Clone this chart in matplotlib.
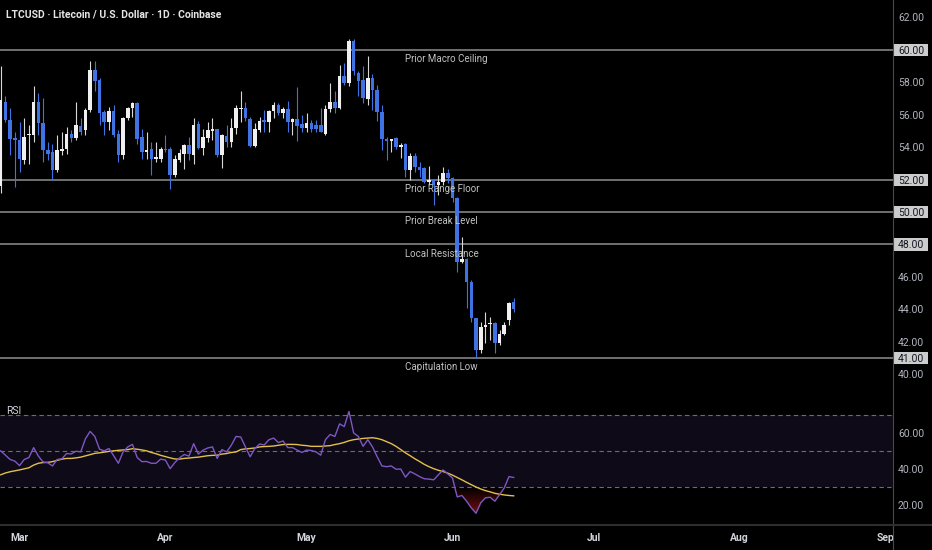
import numpy as np
import pandas as pd
import matplotlib
matplotlib.use("Agg")
import matplotlib.pyplot as plt
from matplotlib.patches import Rectangle
from matplotlib.lines import Line2D

plt.rcParams['font.family'] = ['Roboto', 'DejaVu Sans']

# ── data ──
start_date = "2025-02-25"
title = "LTCUSD · Litecoin / U.S. Dollar · 1D · Coinbase"

opens = [51.6, 56.80, 55.66, 54.57, 54.42, 53.18, 54.73, 54.73, 56.80, 55.45,
         53.80, 53.70, 52.56, 53.74, 53.90, 54.83, 54.57, 55.31, 55.04, 56.28,
         58.76, 58.14, 56.14, 55.52, 56.22, 54.83, 53.49, 55.76, 56.38, 56.69,
         54.63, 53.70, 53.86, 53.29, 53.29, 53.90, 53.86, 52.25, 53.18, 53.59,
         54.15, 53.49, 55.39, 53.95, 54.57, 55.00, 55.08, 53.49, 54.67, 54.32,
         55.19, 56.34, 56.43, 55.72, 54.07, 55.04, 55.66, 55.52, 56.22, 56.59,
         56.07, 56.34, 55.56, 55.72, 55.39, 55.19, 55.45, 55.35, 55.35, 54.83,
         56.34, 56.76, 56.43, 58.35, 57.93, 60.52, 58.55, 58.14, 56.96, 58.24,
         57.52, 56.18, 54.52, 54.36, 54.54, 54.02, 54.18, 52.59, 53.45, 52.80,
         52.73, 51.87, 51.97, 51.66, 51.87, 52.43, 52.08, 50.84, 46.95, 47.09,
         45.71, 43.45, 41.51, 42.94, 43.08, 43.14, 41.92, 42.49, 43.35, 44.48]
highs = [59.0, 57.11, 56.38, 54.94, 55.56, 55.76, 55.35, 57.73, 57.31, 56.99,
         54.32, 54.21, 54.73, 54.94, 55.25, 55.04, 56.80, 55.76, 56.38, 59.28,
         59.28, 58.24, 56.28, 56.49, 56.59, 55.04, 55.87, 56.49, 56.80, 56.75,
         55.14, 54.94, 54.32, 54.32, 54.01, 54.73, 54.01, 53.49, 53.90, 54.21,
         54.63, 55.76, 55.60, 55.14, 55.56, 55.76, 55.14, 54.83, 55.35, 55.76,
         56.59, 57.42, 56.80, 55.87, 55.45, 55.87, 56.28, 56.28, 56.80, 56.69,
         56.49, 56.84, 55.76, 57.67, 55.97, 56.07, 55.66, 55.66, 56.38, 56.59,
         57.93, 57.42, 59.07, 59.17, 60.62, 60.62, 58.66, 58.97, 59.59, 58.49,
         57.83, 56.59, 54.63, 54.52, 54.59, 54.23, 54.23, 53.61, 53.61, 53.10,
         52.80, 52.84, 52.01, 52.28, 52.76, 52.63, 52.18, 50.95, 48.48, 47.15,
         45.82, 43.50, 43.25, 43.86, 43.56, 43.20, 42.73, 43.25, 44.48, 44.69]
lows = [51.2, 55.56, 53.49, 51.53, 52.46, 52.98, 52.98, 54.32, 54.73, 53.08,
        53.18, 51.94, 52.46, 53.49, 53.59, 54.32, 54.42, 54.73, 54.73, 56.18,
        57.42, 55.35, 54.73, 55.04, 54.60, 53.08, 53.29, 55.66, 55.87, 54.21,
        53.29, 53.29, 52.25, 53.08, 53.08, 53.70, 51.43, 52.15, 53.08, 52.67,
        53.18, 52.98, 53.90, 53.53, 54.32, 54.42, 53.39, 52.71, 54.01, 54.01,
        54.83, 55.56, 55.60, 54.01, 54.01, 54.94, 54.94, 54.94, 55.81, 55.97,
        55.76, 54.94, 54.73, 54.36, 54.94, 54.90, 54.94, 54.94, 54.90, 54.77,
        56.14, 56.07, 56.34, 57.83, 57.73, 58.45, 57.11, 56.69, 56.59, 56.28,
        55.60, 53.80, 53.18, 53.70, 53.90, 53.31, 52.18, 51.97, 52.49, 52.18,
        51.77, 51.66, 50.43, 51.05, 51.66, 51.77, 50.64, 46.33, 46.84, 44.07,
        43.25, 41.00, 41.30, 41.92, 42.12, 41.30, 41.81, 42.43, 43.04, 43.86]
closes = [56.9, 55.66, 54.52, 54.42, 53.29, 54.63, 54.83, 56.80, 55.45, 53.80,
          53.59, 52.56, 53.80, 53.90, 54.83, 54.57, 55.35, 54.94, 56.28, 58.76,
          58.04, 56.07, 55.56, 56.22, 54.73, 53.49, 55.76, 56.38, 56.69, 54.52,
          53.70, 53.84, 53.29, 53.39, 53.90, 53.80, 52.25, 53.29, 53.66, 54.15,
          53.55, 55.35, 53.95, 54.63, 55.04, 55.08, 53.49, 54.73, 54.32, 55.19,
          56.38, 56.43, 55.76, 54.07, 55.08, 55.60, 55.52, 56.22, 56.59, 56.07,
          56.34, 55.56, 55.72, 55.31, 55.19, 55.45, 55.08, 55.14, 54.94, 56.34,
          56.76, 56.43, 58.35, 57.93, 60.52, 58.66, 58.04, 57.00, 58.24, 57.52,
          56.18, 54.52, 54.36, 54.48, 54.02, 54.12, 52.59, 53.45, 52.80, 52.59,
          51.87, 51.97, 51.66, 51.87, 52.43, 52.08, 50.84, 46.95, 47.09, 45.71,
          43.45, 41.51, 42.94, 43.04, 43.19, 41.92, 42.49, 43.04, 44.42, 44.01]

rsi = [50.1, 47.7, 45.3, 44.4, 41.9, 45.3, 46.4, 51.9, 47.2, 43.9,
       43.5, 41.7, 45.3, 45.7, 48.6, 48.4, 49.9, 49.5, 56.8, 60.9,
       58.1, 51.0, 50.1, 51.4, 47.4, 43.2, 49.5, 52.3, 53.7, 46.4,
       44.1, 44.2, 43.2, 43.2, 45.5, 45.0, 40.2, 43.6, 46.2, 48.1,
       47.2, 54.1, 48.3, 50.5, 51.7, 52.3, 45.9, 50.8, 49.5, 53.2,
       58.1, 57.8, 52.3, 46.8, 51.4, 53.9, 53.4, 56.3, 57.2, 54.7,
       55.6, 51.9, 51.9, 50.5, 49.2, 50.5, 50.3, 49.5, 47.7, 56.3,
       59.2, 58.1, 65.1, 63.6, 72.0, 60.0, 58.1, 52.6, 56.3, 52.3,
       46.8, 41.7, 41.3, 41.7, 39.9, 40.0, 35.5, 38.6, 37.3, 35.8,
       34.6, 34.4, 34.0, 36.8, 39.5, 37.3, 35.0, 24.5, 25.3, 22.1,
       18.4, 15.4, 21.2, 24.0, 24.3, 22.1, 25.8, 29.5, 35.8, 35.3]
rsi_ma = [36.8, 37.8, 38.5, 39.0, 39.5, 40.1, 40.7, 42.2, 43.2, 43.6,
          43.7, 44.1, 44.8, 45.5, 45.9, 45.9, 46.2, 46.6, 47.3, 48.0,
          48.7, 49.0, 49.4, 49.8, 50.1, 50.4, 50.6, 50.8, 51.3, 51.0,
          50.6, 50.1, 49.2, 48.5, 47.6, 46.9, 46.2, 45.6, 45.5, 45.9,
          46.1, 46.4, 46.6, 47.0, 47.4, 47.6, 47.7, 48.3, 48.6, 49.2,
          49.5, 50.8, 51.2, 51.4, 51.7, 52.3, 52.5, 52.6, 52.8, 53.2,
          53.6, 53.7, 53.7, 53.6, 53.2, 53.0, 52.6, 52.6, 52.6, 52.8,
          53.0, 53.6, 54.1, 54.8, 55.7, 56.3, 56.7, 57.0, 57.2, 57.4,
          57.0, 56.3, 55.2, 54.1, 52.6, 50.8, 49.0, 47.4, 45.7, 44.2,
          42.6, 41.3, 40.2, 39.3, 38.6, 37.7, 36.6, 35.3, 34.0, 32.6,
          31.3, 30.0, 28.9, 28.0, 27.3, 26.5, 26.0, 25.6, 25.3, 25.1]

level_prices = [60.0, 52.0, 50.0, 48.0, 41.0]
level_names = ["Prior Macro Ceiling", "Prior Range Floor", "Prior Break Level",
               "Local Resistance", "Capitulation Low"]
price_ticks = [62, 58, 56, 54, 46, 44, 42, 40]
rsi_ticks = [60, 40, 20]
rsi_bands = [70, 50, 30]

# ── style ──
BLUE = "#3f72e2"
WHITE = "#f0f0f0"
AXIS_TXT = "#b2b5be"

W, H = 932, 550
fig = plt.figure(figsize=(W / 100, H / 100), dpi=100, facecolor="black")
fx = lambda px: px / W
fy = lambda py: 1 - py / H

ax = fig.add_axes([0, fy(392), fx(893), 392 / H])
ax_rsi = fig.add_axes([0, fy(525), fx(893), 133 / H])
ax_date = fig.add_axes([0, 0, fx(893), 25 / H])

x = np.arange(len(opens))
xlim = (-0.15, 189.6)

# candles
o, h, l, c = map(np.array, (opens, highs, lows, closes))
up = c >= o
cols = np.where(up, WHITE, BLUE)
wick_cols = np.where(up, "#d8d8d8", BLUE)
ax.vlines(x, l, h, colors=wick_cols, lw=0.8, zorder=3)
ax.bar(x, np.maximum(np.abs(c - o), 0.07), bottom=np.minimum(o, c), width=0.76,
       color=cols, linewidth=0, zorder=4)

for p, name in zip(level_prices, level_names):
    ax.axhline(p, color="#8f8f8f", lw=1.1, zorder=2)
    ax.text(86.0, p - 0.56, name, fontsize=7, color="#c2c2c2", va="center",
            ha="left", zorder=6)

ax.set_xlim(*xlim)
ax.set_ylim(38.92, 63.05)

# rsi pane
r = np.array(rsi)
ax_rsi.axhspan(30, 70, color="#0e0a17", lw=0, zorder=0)
for b in rsi_bands:
    ax_rsi.axhline(b, color="#6a6d78", lw=0.8, ls=(0, (4, 3)), zorder=1)
fill = ax_rsi.fill_between(x, r, 30, where=r < 30, interpolate=True,
                           color="none", lw=0)
vals = np.linspace(8.9, 30, 200)
grad = np.zeros((200, 1, 4))
grad[..., 0] = 0.78
grad[..., 1] = 0.1
grad[..., 2] = 0.1
grad[..., 3] = np.clip((30 - vals) / 25, 0, 1)[:, None]
im = ax_rsi.imshow(grad, extent=(xlim[0], xlim[1], 8.9, 30), origin="lower",
                   aspect="auto", zorder=2)
if len(fill.get_paths()):
    im.set_clip_path(fill.get_paths()[0], transform=ax_rsi.transData)
ax_rsi.plot(x, rsi_ma, color="#e3c04a", lw=1.0, zorder=3)
ax_rsi.plot(x, rsi, color="#7e57c2", lw=1.0, zorder=4)
ax_rsi.set_xlim(*xlim)
ax_rsi.set_ylim(8.9, 82.8)

for a in (ax, ax_rsi):
    a.set_facecolor("black")
    a.yaxis.tick_right()
    a.tick_params(axis="y", length=0, pad=3.6, labelsize=7.5, labelcolor=AXIS_TXT)
    a.set_xticks([])
    for s in a.spines.values():
        s.set_visible(False)
ax.set_yticks(price_ticks)
ax.set_yticklabels([f"{v:.2f}" for v in price_ticks])
ax_rsi.set_yticks(rsi_ticks)
ax_rsi.set_yticklabels([f"{v:.2f}" for v in rsi_ticks])

# boxed price labels for the levels
ytr = ax.get_yaxis_transform()
for p in level_prices:
    ax.add_patch(Rectangle((1.0, p - 0.37), 35 / 893, 0.74, transform=ytr,
                           fc="#cccccc", ec="none", clip_on=False, zorder=7))
    ax.text(1.0 + 5 / 893, p, f"{p:.2f}", transform=ytr, ha="left",
            va="center_baseline", fontsize=7.5, color="#131722", clip_on=False, zorder=8)

# date axis
ax_date.set_facecolor("black")
ax_date.set_xlim(*xlim)
ax_date.set_ylim(0, 1)
ax_date.set_xticks([])
ax_date.set_yticks([])
for s in ax_date.spines.values():
    s.set_visible(False)
d0 = pd.Timestamp(start_date)
for m in pd.date_range(d0, d0 + pd.Timedelta(days=200), freq="MS"):
    pos = (m - d0).days
    ax_date.text(pos, 0.48, m.strftime("%b"), ha="center", va="center",
                 color="#d1d4dc", fontsize=7.5, fontweight="bold", clip_on=True)

# separators and header texts
fig.add_artist(Line2D([fx(893)] * 2, [0, 1], color="#4a4a4a", lw=0.8))
fig.add_artist(Line2D([0, 1], [fy(525)] * 2, color="#2e2e2e", lw=1.5))
fig.text(fx(6), fy(14), title, color="#e6e6e6", fontsize=7.5,
         fontweight="bold", va="center", ha="left")
fig.text(fx(6), fy(411), "RSI", color="#d1d4dc", fontsize=7.5, va="center", ha="left")

fig.savefig("out.png", dpi=100, facecolor="black")
